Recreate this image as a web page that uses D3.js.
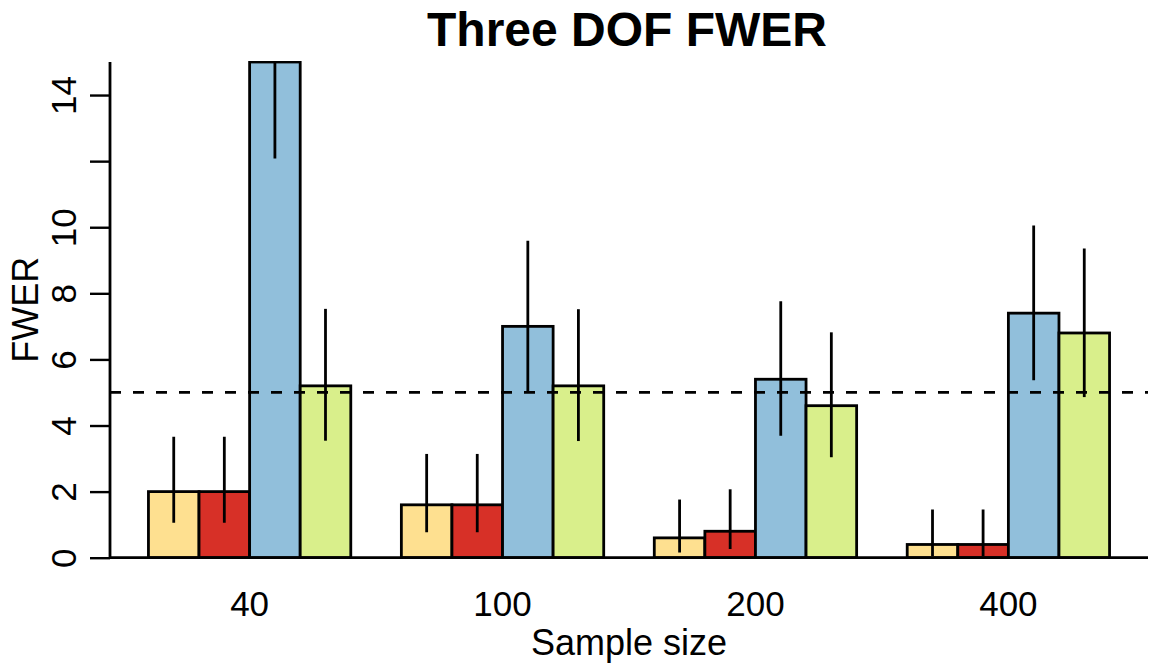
<!DOCTYPE html>
<html>
<head>
<meta charset="utf-8">
<script src="https://cdn.jsdelivr.net/npm/d3@7"></script>
<style>
  html, body { margin: 0; padding: 0; background: #ffffff; }
  svg { display: block; font-family: "Liberation Sans", Arial, Helvetica, sans-serif; }
</style>
</head>
<body>
<svg id="chart" width="1152" height="664"></svg>
<script>
// ---- data ----
const sampleSizes = ["40", "100", "200", "400"];
const seriesNames = ["Method 1", "Method 2", "Method 3", "Method 4"];
const seriesColors = ["#FEE090", "#D73027", "#91BFDB", "#D9EF8B"];

const fwer1 = [2.0, 1.6, 0.6, 0.4];
const fwer2 = [2.0, 1.6, 0.8, 0.4];
const fwer3 = [15.0, 7.0, 5.4, 7.4];
const fwer4 = [5.2, 5.2, 4.6, 6.8];

const lower1 = [1.06, 0.77, 0.16, 0.05];
const lower2 = [1.06, 0.77, 0.26, 0.05];
const lower3 = [12.08, 4.99, 3.69, 5.37];
const lower4 = [3.54, 3.53, 3.04, 4.86];

const upper1 = [3.66, 3.14, 1.76, 1.46];
const upper2 = [3.66, 3.14, 2.07, 1.46];
const upper3 = [15.0, 9.59, 7.76, 10.05];
const upper4 = [7.53, 7.52, 6.82, 9.36];

const yTicks = [0, 2, 4, 6, 8, 10, 12, 14];
const yTickLabels = ["0", "2", "4", "6", "8", "10", "", "14"];
const refLevel = 5;

const titleText = "Three DOF FWER";
const xLabel = "Sample size";
const yLabel = "FWER";

// ---- build table ----
const values = [fwer1, fwer2, fwer3, fwer4];
const lowers = [lower1, lower2, lower3, lower4];
const uppers = [upper1, upper2, upper3, upper4];
const rows = [];
sampleSizes.forEach((g, gi) => {
  seriesNames.forEach((s, si) => {
    rows.push({ group: g, series: s, si, value: values[si][gi], lo: lowers[si][gi], hi: uppers[si][gi] });
  });
});

// ---- layout ----
const svg = d3.select("#chart");
const plotLeft = 110, plotRight = 1148, plotTop = 62, plotBottom = 557.7;
const lw = 2.8;

// R barplot units: bars occupy [1,20], xlim extended by 4%
const xUnits = d3.scaleLinear().domain([0.24, 20.76]).range([plotLeft, plotRight]);
const x0 = d3.scaleBand().domain(sampleSizes).range([xUnits(1), xUnits(20)]).paddingInner(0.2).paddingOuter(0);
const x1 = d3.scaleBand().domain(seriesNames).range([0, x0.bandwidth()]);
const y = d3.scaleLinear().domain([0, 15]).range([plotBottom, plotTop]);

svg.append("defs").append("clipPath").attr("id", "plotclip")
  .append("rect").attr("x", plotLeft).attr("y", plotTop - 1)
  .attr("width", plotRight - plotLeft).attr("height", plotBottom - plotTop + 2);

const plot = svg.append("g").attr("clip-path", "url(#plotclip)");

// bars
plot.selectAll("rect.bar").data(rows).enter().append("rect")
  .attr("class", "bar")
  .attr("x", d => x0(d.group) + x1(d.series))
  .attr("y", d => y(d.value))
  .attr("width", x1.bandwidth())
  .attr("height", d => y(0) - y(d.value))
  .attr("fill", d => seriesColors[d.si])
  .attr("stroke", "#000")
  .attr("stroke-width", lw);

// reference line
plot.append("line")
  .attr("x1", plotLeft).attr("x2", plotRight)
  .attr("y1", y(refLevel)).attr("y2", y(refLevel))
  .attr("stroke", "#000").attr("stroke-width", lw)
  .attr("stroke-dasharray", "11,12");

// error bars
plot.selectAll("line.err").data(rows).enter().append("line")
  .attr("class", "err")
  .attr("x1", d => x0(d.group) + x1(d.series) + x1.bandwidth() / 2)
  .attr("x2", d => x0(d.group) + x1(d.series) + x1.bandwidth() / 2)
  .attr("y1", d => y(d.lo))
  .attr("y2", d => y(d.hi))
  .attr("stroke", "#000")
  .attr("stroke-width", lw);

// L-shaped box
svg.append("path")
  .attr("d", `M${plotLeft},${plotTop}V${plotBottom}H${plotRight}`)
  .attr("fill", "none").attr("stroke", "#000").attr("stroke-width", lw);

// y axis ticks
const yAxis = d3.axisLeft(y).tickValues(yTicks).tickSize(20).tickSizeOuter(0)
  .tickFormat((d, i) => yTickLabels[i]);
const gy = svg.append("g").attr("transform", `translate(${plotLeft},0)`).call(yAxis);
gy.select(".domain").remove();
gy.selectAll(".tick line").attr("stroke", "#000").attr("stroke-width", 2.4);
gy.selectAll(".tick text")
  .attr("x", 0).attr("dy", null)
  .attr("transform", "translate(-34,0) rotate(-90)")
  .attr("text-anchor", "middle")
  .attr("fill", "#000")
  .style("font-size", "35px")
  .style("font-family", "'Liberation Sans', Arial, sans-serif");

// x group labels
const xAxis = d3.axisBottom(x0).tickSize(0);
const gx = svg.append("g").attr("transform", `translate(0,${plotBottom})`).call(xAxis);
gx.select(".domain").remove();
gx.selectAll(".tick text")
  .attr("y", 58).attr("dy", null)
  .attr("fill", "#000")
  .style("font-size", "35px")
  .style("font-family", "'Liberation Sans', Arial, sans-serif");

// axis titles
svg.append("text")
  .attr("x", (plotLeft + plotRight) / 2).attr("y", 655)
  .attr("text-anchor", "middle")
  .style("font-size", "36px")
  .text(xLabel);

svg.append("text")
  .attr("transform", `translate(38,${(plotTop + plotBottom) / 2}) rotate(-90)`)
  .attr("text-anchor", "middle")
  .style("font-size", "36px")
  .text(yLabel);

// title
svg.append("text")
  .attr("x", (plotLeft + plotRight) / 2 - 2).attr("y", 46)
  .attr("text-anchor", "middle")
  .style("font-size", "48px")
  .style("font-weight", "bold")
  .text(titleText);
</script>
</body>
</html>
